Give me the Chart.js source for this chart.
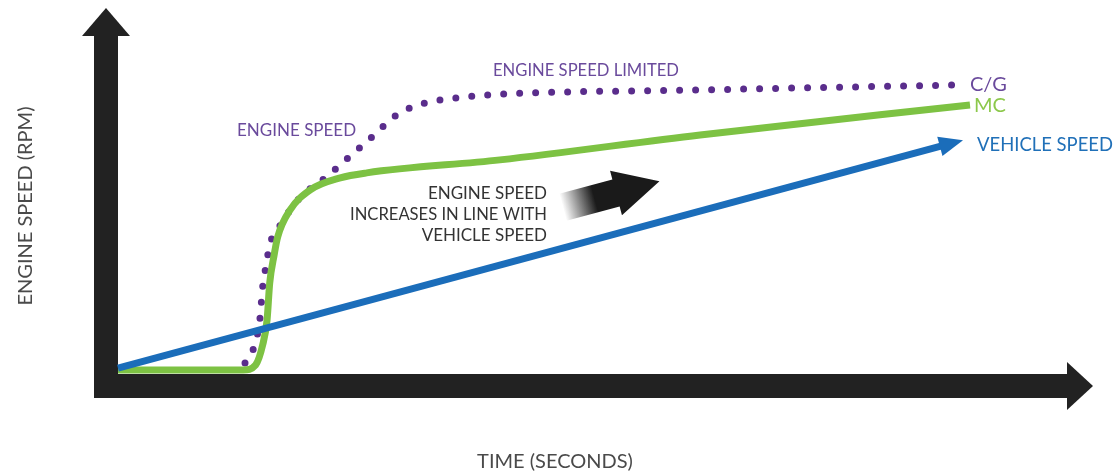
<!DOCTYPE html>
<html>
<head>
<meta charset="utf-8">
<script src="https://cdn.jsdelivr.net/npm/chart.js@4.4.1/dist/chart.umd.min.js"></script>
<style>
  html, body { margin: 0; padding: 0; background: #fff; }
  #wrap { width: 1117px; height: 475px; position: relative; }
</style>
</head>
<body>
<div id="wrap"><canvas id="speedChart"></canvas></div>
<script>
// Values (time 0-100, engine speed 0-100, arbitrary units)
const mcTime     = [0, 14.2, 15.6, 16.4, 16.9, 17.2, 17.7, 18.1, 19.5, 21.8, 25.2, 28.2, 43.3, 66, 96.6];
const mcSpeed    = [0.9, 0.9, 2.4, 8.4, 15.9, 27, 35.4, 40.8, 48.9, 55, 58.6, 60.1, 64, 71.5, 80.5];
const cgTime     = [14.4, 15.3, 16.1, 16.4, 16.8, 17.2, 18.4, 20.6, 23.5, 26.1, 28.8, 31.6, 34.8, 38.4, 41.9, 66, 95.5];
const cgSpeed    = [3, 6.9, 16.5, 25.8, 32.4, 38.4, 44.4, 52.6, 58.6, 64.6, 70.9, 77.5, 81.1, 82.6, 83.5, 85, 86.5];
const vehTime    = [0, 93.4];
const vehSpeed   = [1.5, 68.2];

const PURPLE = '#5a2d8c';
const GREEN = '#7dc243';
const BLUE = '#1b6dba';

function pts(xs, ys) {
    return xs.map((x, i) => ({ x: x, y: ys[i] }));
}

// Axes arrows, annotations and the blue arrow head
const decorPlugin = {
    id: 'decor',
    beforeDatasetsDraw(chart) {
        const ctx = chart.ctx;
        ctx.save();
        ctx.fillStyle = '#222';
        // vertical axis
        ctx.fillRect(94, 34, 24, 364);
        ctx.beginPath();
        ctx.moveTo(82, 36); ctx.lineTo(130, 36); ctx.lineTo(106, 8); ctx.closePath();
        ctx.fill();
        // horizontal axis
        ctx.fillRect(94, 374, 974, 24);
        ctx.beginPath();
        ctx.moveTo(1067, 362); ctx.lineTo(1067, 410); ctx.lineTo(1093, 386); ctx.closePath();
        ctx.fill();

        // gradient arrow in the middle
        ctx.save();
        ctx.translate(616, 193);
        ctx.rotate(-15 * Math.PI / 180);
        const grad = ctx.createLinearGradient(-55, 0, -22, 0);
        grad.addColorStop(0, 'rgba(26,26,26,0)');
        grad.addColorStop(1, 'rgba(26,26,26,1)');
        ctx.fillStyle = grad;
        ctx.beginPath();
        ctx.moveTo(-55, -14);
        ctx.lineTo(0, -14);
        ctx.lineTo(0, -23);
        ctx.lineTo(45, 0);
        ctx.lineTo(0, 23);
        ctx.lineTo(0, 14);
        ctx.lineTo(-55, 14);
        ctx.closePath();
        ctx.fill();
        ctx.restore();
        ctx.restore();
    },
    afterDatasetsDraw(chart) {
        const ctx = chart.ctx;
        const xs = chart.scales.x, ys = chart.scales.y;
        ctx.save();

        // blue arrow head at end of vehicle speed line
        const n = vehTime.length;
        const x0 = xs.getPixelForValue(vehTime[n - 2]), y0 = ys.getPixelForValue(vehSpeed[n - 2]);
        const x1 = xs.getPixelForValue(vehTime[n - 1]), y1 = ys.getPixelForValue(vehSpeed[n - 1]);
        const a = Math.atan2(y1 - y0, x1 - x0);
        ctx.translate(x1, y1);
        ctx.rotate(a);
        ctx.fillStyle = BLUE;
        ctx.beginPath();
        ctx.moveTo(-2, -10); ctx.lineTo(22, 0); ctx.lineTo(-2, 10); ctx.closePath();
        ctx.fill();
        ctx.setTransform(1, 0, 0, 1, 0, 0);

        ctx.textBaseline = 'middle';
        ctx.textAlign = 'left';
        const font = (s) => s + 'px Lato, "Open Sans", sans-serif';

        ctx.fillStyle = '#6a4a9c';
        ctx.font = font(17);
        ctx.fillText('ENGINE SPEED LIMITED', 493, 71, 186);
        ctx.fillText('ENGINE SPEED', 237, 131, 120);
        ctx.font = font(20);
        ctx.fillText('C/G', 970, 85);

        ctx.fillStyle = '#8cc84b';
        ctx.fillText('MC', 974, 106);

        ctx.fillStyle = '#2070b8';
        ctx.font = font(19);
        ctx.fillText('VEHICLE SPEED', 977, 145, 136);

        ctx.fillStyle = '#333';
        ctx.font = font(17);
        ctx.textAlign = 'right';
        ctx.fillText('ENGINE SPEED', 547, 194, 120);
        ctx.fillText('INCREASES IN LINE WITH', 547, 215, 197);
        ctx.fillText('VEHICLE SPEED', 547, 236, 126);

        ctx.fillStyle = '#4a4a4a';
        ctx.font = font(20);
        ctx.textAlign = 'center';
        ctx.fillText('TIME (SECONDS)', 555, 462, 176);

        ctx.translate(26, 206);
        ctx.rotate(-Math.PI / 2);
        ctx.fillText('ENGINE SPEED (RPM)', 0, 0, 208);
        ctx.restore();
    }
};

const chart = new Chart(document.getElementById('speedChart'), {
    type: 'line',
    data: {
        datasets: [{
            label: 'Vehicle speed',
            data: pts(vehTime, vehSpeed),
            borderColor: BLUE,
            borderWidth: 7,
            pointRadius: 0,
            tension: 0
        }, {
            label: 'MC',
            data: pts(mcTime, mcSpeed),
            borderColor: GREEN,
            borderWidth: 7,
            pointRadius: 0,
            cubicInterpolationMode: 'monotone'
        }, {
            label: 'C/G',
            data: pts(cgTime, cgSpeed),
            borderColor: PURPLE,
            borderWidth: 7,
            borderDash: [0, 16],
            borderCapStyle: 'round',
            pointRadius: 0,
            cubicInterpolationMode: 'monotone'
        }]
    },
    options: {
        responsive: true,
        maintainAspectRatio: false,
        animation: false,
        clip: false,
        layout: {
            padding: { left: 118, right: 117, top: 40, bottom: 102 }
        },
        plugins: {
            legend: { display: false },
            tooltip: { enabled: false }
        },
        scales: {
            x: { type: 'linear', min: 0, max: 100, display: false },
            y: { type: 'linear', min: 0, max: 100, display: false }
        }
    },
    plugins: [decorPlugin]
});
</script>
</body>
</html>
